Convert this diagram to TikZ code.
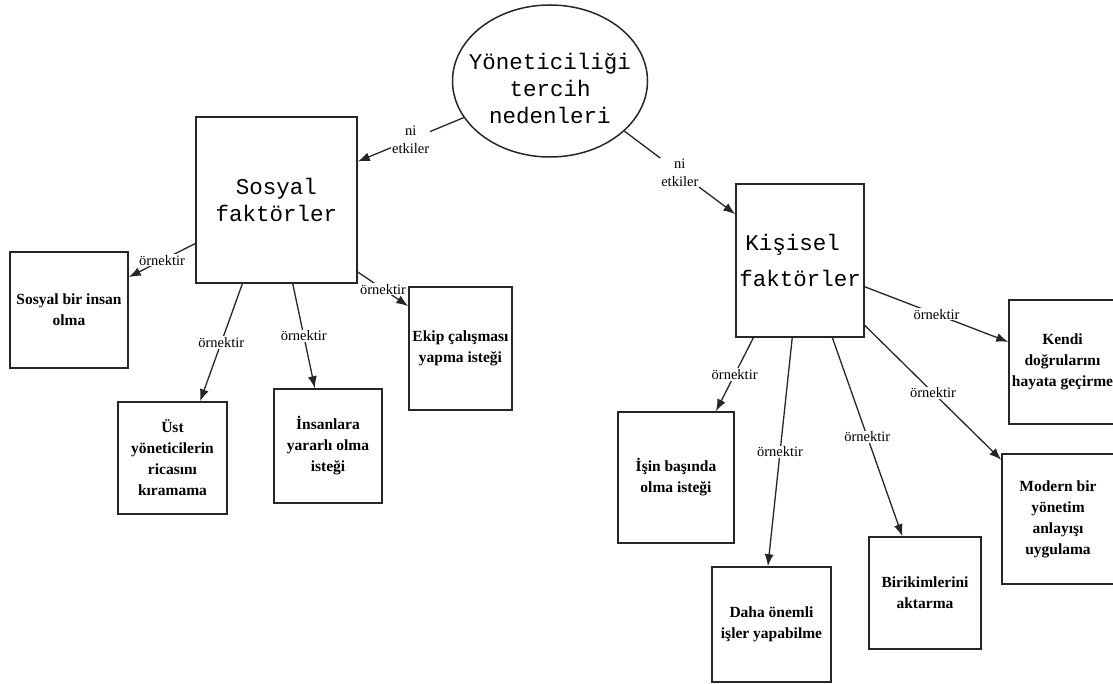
\documentclass[tikz,border=0pt]{standalone}
\usepackage{fontspec}
\setmainfont{Liberation Serif}
\newfontfamily\monof{Liberation Mono}
\usetikzlibrary{shapes.geometric,arrows.meta,calc}
\newcommand\boxfont{\fontsize{15.5}{21}\selectfont\bfseries}
\newcommand\lblfont{\fontsize{14.5}{18.5}\selectfont}
\newcommand\headfont{\monof\fontsize{22.5}{27}\selectfont}
\tikzset{
  box/.style={draw=black!85, line width=1.5pt, fill=white, inner sep=2pt,
    align=center, font=\boxfont},
  headbox/.style={draw=black!85, line width=1.5pt, fill=white, inner sep=2pt,
    align=center, font=\headfont},
  lbl/.style={fill=white, inner sep=1pt, align=center, font=\lblfont},
  conn/.style={draw=black!85, line width=1.3pt, -{Latex[length=12pt,width=9pt]}},
}
\begin{document}
\begin{tikzpicture}[x=1pt,y=-1pt]
\useasboundingbox (0,0) rectangle (1113,684);
\clip (0,0) rectangle (1113,684);

% root
\node[ellipse, draw=black!85, line width=1.5pt, minimum width=195pt,
      minimum height=152pt] (ell) at (550,81) {};
\node[align=center, font=\headfont] (ellt) at (550,88)
      {Yöneticiliği\\tercih\\nedenleri};

% factor boxes
\node[headbox, minimum width=161pt, minimum height=166pt] (sos) at (276.5,200)
      {Sosyal\\faktörler};
\node[headbox, align=left, minimum width=128pt, minimum height=153pt] (kis)
      at (800,260.5) {\hspace{6pt}Kişisel\\[9pt]faktörler};

% social examples
\node[box, minimum width=118pt, minimum height=116pt] (sbi) at (69,310)
      {Sosyal bir insan\\olma};
\node[box, minimum width=109pt, minimum height=112pt] (ust) at (172.5,458)
      {Üst\\yöneticilerin\\ricasını\\kıramama};
\node[box, minimum width=108pt, minimum height=114pt] (ins) at (328,446)
      {İnsanlara\\yararlı olma\\isteği};
\node[box, minimum width=103pt, minimum height=123pt] (ekip) at (460.5,348.5)
      {Ekip çalışması\\yapma isteği};

% personal examples
\node[box, minimum width=107pt, minimum height=124pt] (kendi) at (1062.5,362)
      {Kendi\\doğrularını\\hayata geçirme};
\node[box, minimum width=112pt, minimum height=130pt] (modern) at (1058,519)
      {Modern bir\\yönetim\\anlayışı\\uygulama};
\node[box, minimum width=116pt, minimum height=131pt] (isin) at (676,477.5)
      {İşin başında\\olma isteği};
\node[box, minimum width=119pt, minimum height=115pt] (daha) at (771.5,624.5)
      {Daha önemli\\işler yapabilme};
\node[box, minimum width=112pt, minimum height=112pt] (biri) at (925,593)
      {Birikimlerini\\aktarma};

% root to factors
\draw[conn] (ell.203) -- node[lbl]{ni\\etkiler}
      ($(sos.north east)!0.27!(sos.south east)$);
\draw[conn] (ell.-34) -- node[lbl]{ni\\etkiler}
      ($(kis.north west)!0.2!(kis.south west)$);

% social factor examples
\draw[conn] ($(sos.north west)!0.76!(sos.south west)$) -- node[lbl]{örnektir}
      ($(sbi.north east)!0.22!(sbi.south east)$);
\draw[conn] ($(sos.south west)!0.29!(sos.south east)$) -- node[lbl]{örnektir}
      ($(ust.north west)!0.75!(ust.north east)$);
\draw[conn] ($(sos.south west)!0.6!(sos.south east)$) -- node[lbl]{örnektir}
      ($(ins.north west)!0.38!(ins.north east)$);
\draw[conn] ($(sos.north east)!0.93!(sos.south east)$) -- node[lbl]{örnektir}
      ($(ekip.north west)!0.16!(ekip.south west)$);

% personal factor examples
\draw[conn] ($(kis.south west)!0.14!(kis.south east)$) -- node[lbl]{örnektir}
      ($(isin.north west)!0.84!(isin.north east)$);
\draw[conn] ($(kis.south west)!0.44!(kis.south east)$) -- node[lbl]{örnektir}
      ($(daha.north west)!0.47!(daha.north east)$);
\draw[conn] ($(kis.south west)!0.75!(kis.south east)$) -- node[lbl]{örnektir}
      ($(biri.north west)!0.3!(biri.north east)$);
\draw[conn] ($(kis.north east)!0.67!(kis.south east)$) -- node[lbl]{örnektir}
      ($(kendi.north west)!0.34!(kendi.south west)$);
\draw[conn] ($(kis.north east)!0.92!(kis.south east)$) -- node[lbl]{örnektir}
      ($(modern.north west)!0.05!(modern.south west)$);
\end{tikzpicture}
\end{document}
